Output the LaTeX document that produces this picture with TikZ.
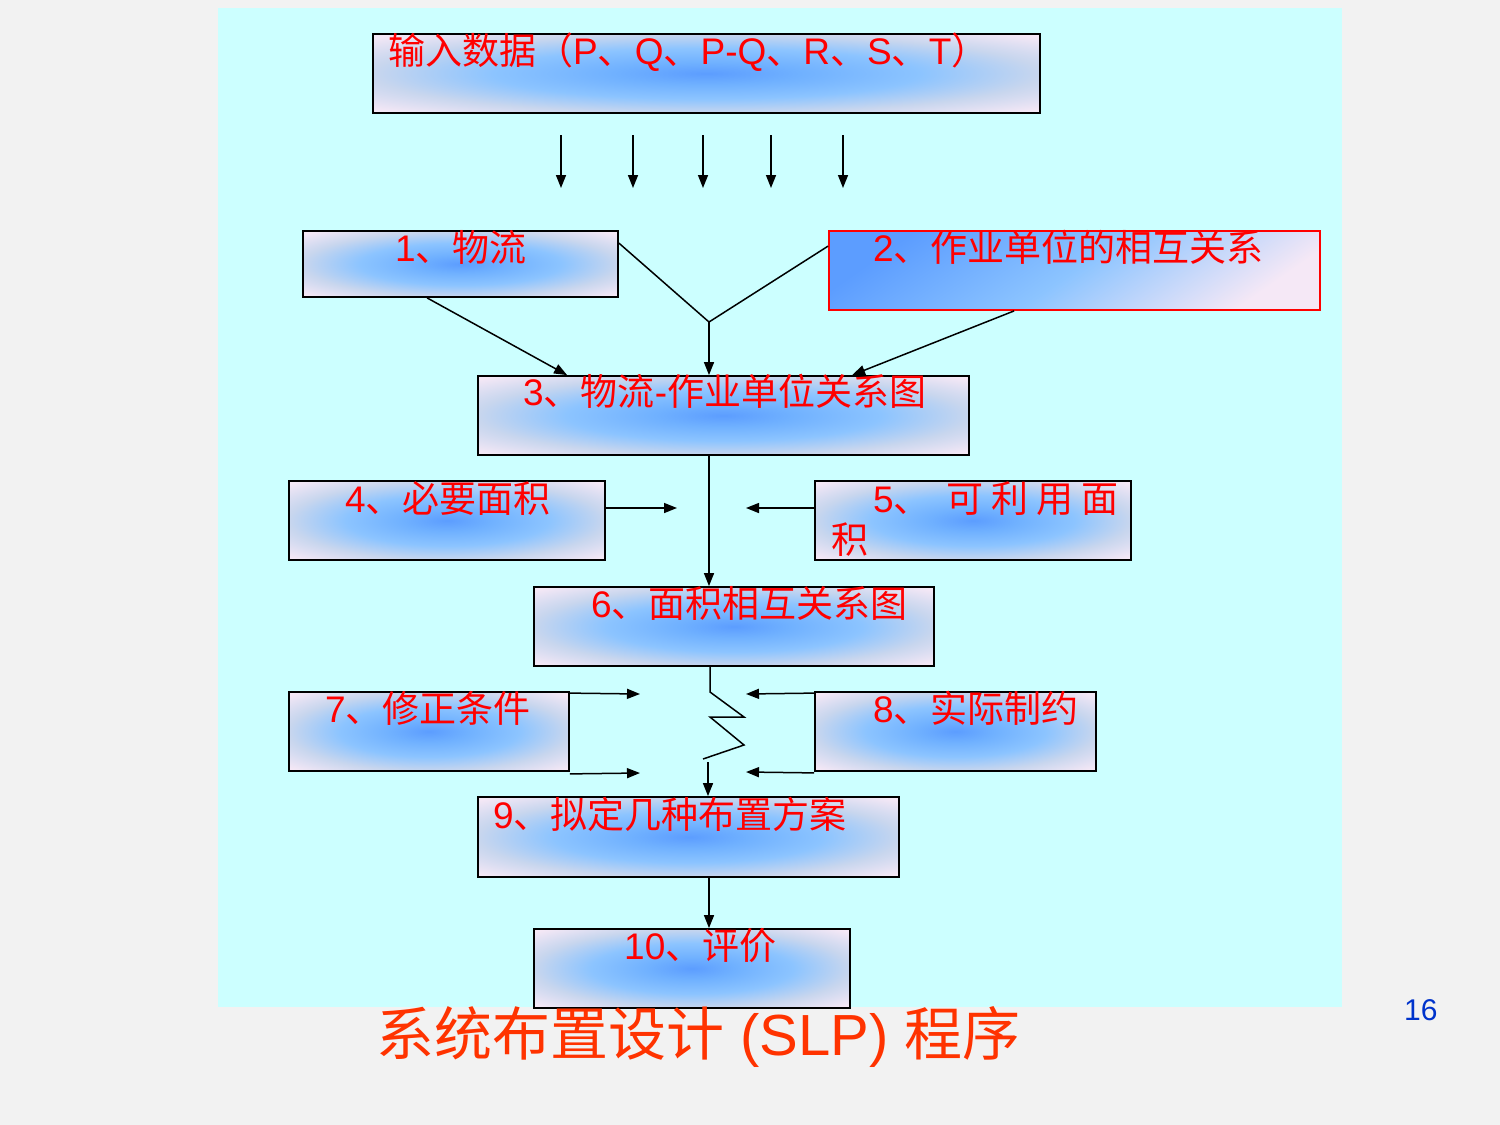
\documentclass[tikz,border=0pt]{standalone}
\usepackage{fontspec}
\setmainfont{Liberation Sans}
\newfontfamily\cjk{Noto Sans CJK SC}
\usetikzlibrary{arrows.meta,calc}
\definecolor{bg}{RGB}{242,242,242}
\definecolor{panel}{RGB}{204,255,255}
\definecolor{sblue}{RGB}{92,157,255}
\definecolor{sblue2}{RGB}{112,177,255}
\definecolor{smid}{RGB}{140,196,255}
\definecolor{sgray}{RGB}{200,214,238}
\definecolor{spink}{RGB}{245,232,246}
\definecolor{ttl}{RGB}{255,51,0}
\definecolor{pgnum}{RGB}{0,51,204}
\pgfdeclareradialshading{boxshade}{\pgfpoint{0bp}{0bp}}{color(0bp)=(sblue); color(7bp)=(sblue2); color(16bp)=(smid); color(25bp)=(sgray); color(34bp)=(spink); color(75bp)=(spink)}
\tikzset{
  box/.style={draw=black, line width=1.8pt, rectangle, inner sep=0pt, shading=boxshade},
  redbox/.style={draw=red, line width=1.8pt, rectangle, inner sep=0pt, top color=sblue, bottom color=spink, middle color=smid, shading angle=35},
  txt/.style={anchor=base west, inner sep=0pt, text=red, font=\fontsize{37}{41}\selectfont},
  conn/.style={draw=black, line width=1.5pt},
  arr/.style={draw=black, line width=1.5pt, -{Triangle[length=13pt,width=10pt]}}
}
\begin{document}
\begin{tikzpicture}[x=1pt,y=-1pt]
\useasboundingbox (0,0) rectangle (1500,1125);
\fill[bg] (0,0) rectangle (1500,1125);
\fill[panel] (218,8) rectangle (1342,1007);

% boxes
\node[box, minimum width=667pt, minimum height=79pt] (b0) at (706.5,73.5) {};
\node[box, minimum width=315pt, minimum height=66pt] (b1) at (460.5,264) {};
\node[redbox, minimum width=491pt, minimum height=79pt] (b2) at (1074.5,270.5) {};
\node[box, minimum width=491pt, minimum height=79pt] (b3) at (723.5,415.5) {};
\node[box, minimum width=316pt, minimum height=79pt] (b4) at (447,520.5) {};
\node[box, minimum width=316pt, minimum height=79pt] (b5) at (973,520.5) {};
\node[box, minimum width=400pt, minimum height=79pt] (b6) at (734,626.5) {};
\node[box, minimum width=280pt, minimum height=79pt] (b7) at (429,731.5) {};
\node[box, minimum width=281pt, minimum height=79pt] (b8) at (955.5,731.5) {};
\node[box, minimum width=421pt, minimum height=80pt] (b9) at (688.5,837) {};
\node[box, minimum width=316pt, minimum height=79pt] (b10) at (692,968.5) {};

% texts
\node[txt] (t0) at (388,64) {{\cjk 输入数据（}P{\cjk 、}Q{\cjk 、}P-Q{\cjk 、}R{\cjk 、}S{\cjk 、}T{\cjk ）}};
\node[txt] (t1) at (395,261) {1{\cjk 、物流}};
\node[txt] (t2) at (873,261) {2{\cjk 、作业单位的相互关系}};
\node[txt] (t3) at (523,405) {3{\cjk 、物流}-{\cjk 作业单位关系图}};
\node[txt] (t4) at (345,512) {4{\cjk 、必要面积}};
\node[txt, align=left] (t5) at (831,553) {\hspace*{42pt}5{\cjk 、}\hspace{16pt}{\cjk 可}\hspace{8pt}{\cjk 利}\hspace{8pt}{\cjk 用}\hspace{8pt}{\cjk 面}\\{\cjk 积}};
\node[txt] (t6) at (591,617) {6{\cjk 、面积相互关系图}};
\node[txt] (t7) at (325,722) {7{\cjk 、修正条件}};
\node[txt] (t8) at (873,722) {8{\cjk 、实际制约}};
\node[txt] (t9) at (493,828) {9{\cjk 、拟定几种布置方案}};
\node[txt] (t10) at (624,959) {10{\cjk 、评价}};
\node[anchor=base west, inner sep=0pt, text=ttl, font=\fontsize{58}{64}\selectfont] (title) at (376,1055) {{\cjk 系统布置设计} (SLP) {\cjk 程序}};
\node[anchor=base west, inner sep=0pt, text=pgnum, font=\fontsize{30}{34}\selectfont] (page) at (1404,1020) {16};

% input arrows
\foreach \x [count=\i] in {561,633,703,771,843} {
  \coordinate (s\i) at (\x,135);
  \coordinate (e\i) at (\x,188);
  \draw[arr] (s\i) -- (e\i);
}

% V junction
\coordinate (v) at (709,322);
\draw[conn] ($(b1.north east)+(0,13)$) -- (v) -- ($(b2.north west)+(0,16)$);
\draw[arr] (v) -- (v |- b3.north);
\draw[arr] ($(b1.south west)+(125,0)$) -- ($(b3.north west)+(90,0)$);
\draw[arr] ($(b2.south west)+(186,0)$) -- ($(b3.north west)+(375,0)$);

% 3 -> 6
\draw[arr] (b3.south -| v) -- (b6.north -| v);
\coordinate (m4) at (677,508);
\coordinate (m5) at (746,508);
\draw[arr] ($(b4.east)+(0,-12.5)$) -- (m4);
\draw[arr] ($(b5.west)+(0,-12.5)$) -- (m5);

% zigzag
\coordinate (z0) at (710,692);
\coordinate (z1) at (744,717);
\coordinate (z2) at (710,717);
\coordinate (z3) at (744,745);
\coordinate (z4) at (703,759);
\coordinate (z5) at (708,762);
\draw[conn, line join=miter] (b6.south -| z0) -- (z0) -- (z1) -- (z2) -- (z3) -- (z4);
\draw[arr] (z5) -- (z5 |- b9.north);

% side arrows 7, 8
\coordinate (r1) at (640,694);
\coordinate (r2) at (640,773);
\coordinate (l1) at (746,694);
\coordinate (l2) at (746,772);
\draw[arr] ($(b7.north east)+(0,2)$) -- (r1);
\draw[arr] ($(b7.south east)+(0,2)$) -- (r2);
\draw[arr] ($(b8.north west)+(0,2)$) -- (l1);
\draw[arr] ($(b8.south west)+(0,1)$) -- (l2);

% 9 -> 10
\coordinate (c9) at (709,877);
\draw[arr] (b9.south -| c9) -- (b10.north -| c9);
\end{tikzpicture}
\end{document}
